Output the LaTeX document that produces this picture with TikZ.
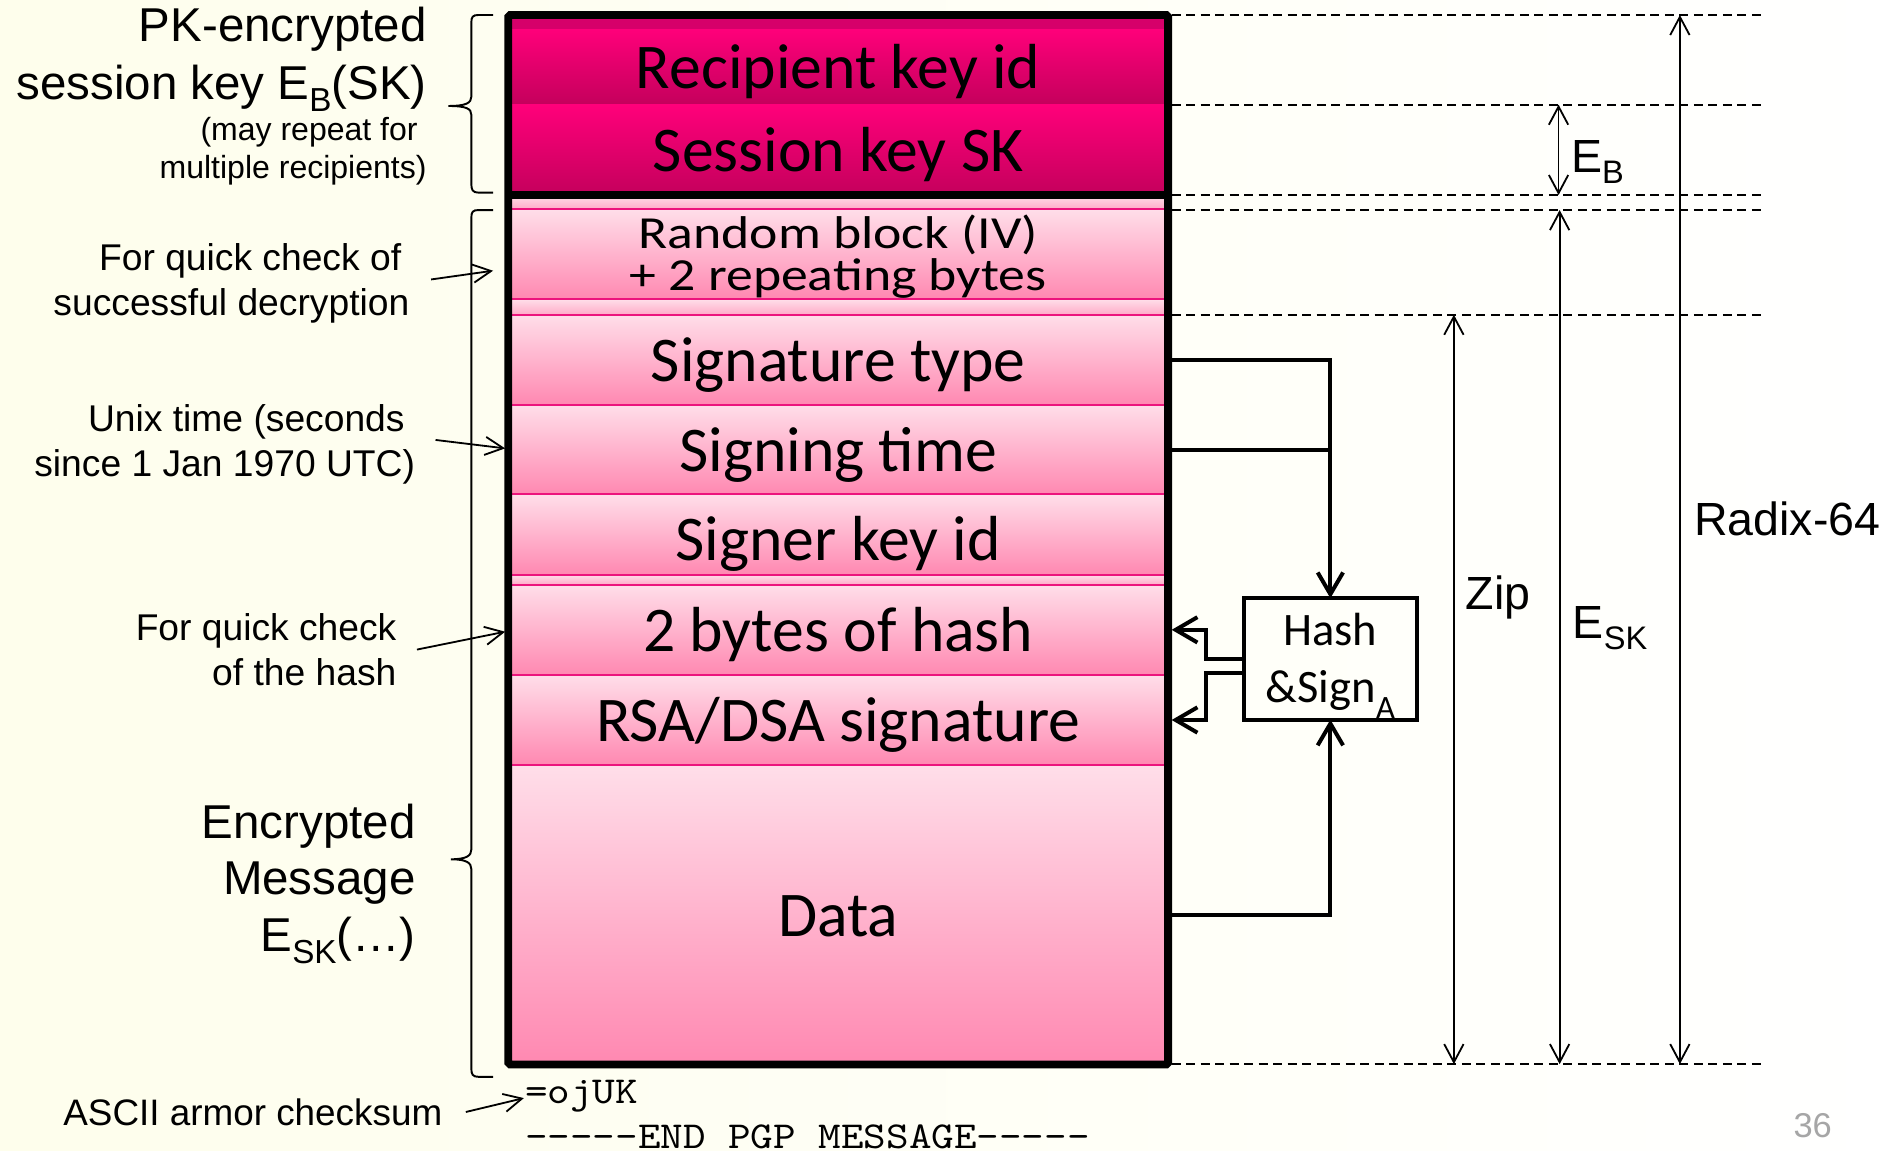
\documentclass[tikz,border=0pt]{standalone}
\usepackage{fontspec}
\usepackage{graphicx}
\setmainfont{Liberation Sans}
\newfontfamily\calfont{Carlito}
\newfontfamily\calwide[FakeStretch=1.17]{Carlito}
\newfontfamily\monofnt[FakeStretch=1.13]{lmmono10-regular.otf}
\usetikzlibrary{arrows.meta}
\newcommand{\subsc}[2][0.24em]{\raisebox{-#1}{\scalebox{0.7}{#2}}}
\newcommand{\fivedash}{-{}-{}-{}-{}-}
\definecolor{bgcream}{RGB}{254,254,236}
\definecolor{darktop}{RGB}{255,0,122}
\definecolor{darkbot}{RGB}{196,0,92}
\definecolor{darkstrip}{RGB}{214,0,106}
\definecolor{lighttop}{RGB}{255,222,233}
\definecolor{lightbot}{RGB}{255,136,177}
\definecolor{sepline}{RGB}{236,20,125}
\definecolor{pagegray}{RGB}{166,166,166}
\begin{document}
\begin{tikzpicture}[x=1pt,y=-1pt,
  every node/.style={inner sep=0pt,outer sep=0pt},
  rowbase/.style={rectangle,anchor=north west,minimum width=545.9pt,
    font=\calfont\fontsize{52.7}{58}\selectfont},
  onel/.style={text height=36pt,text depth=0pt},
  darkrow/.style={rowbase,top color=darktop,bottom color=darkbot},
  lightrow/.style={rowbase,top color=lighttop,bottom color=lightbot,draw=sepline,line width=1.6pt},
  bigl/.style={anchor=base east,align=right,font=\fontsize{39.3}{48.2}\selectfont},
  midl/.style={anchor=base east,align=right,font=\fontsize{30.8}{37}\selectfont},
  smalll/.style={anchor=base east,align=right,font=\fontsize{26.5}{32}\selectfont},
  diml/.style={anchor=base west,font=\fontsize{38.5}{46}\selectfont},
  monot/.style={anchor=base west,font=\monofnt\fontsize{31.5}{35}\selectfont},
  conn/.style={line width=3.3pt},
  connarrow/.style={conn,-{Straight Barb[length=18pt,width=21pt]}},
  dashline/.style={line width=1.4pt,dash pattern=on 7.5pt off 4.5pt},
  dimarrow/.style={line width=1.5pt,{Straight Barb[length=15pt,width=16pt]}-{Straight Barb[length=15pt,width=16pt]}},
  thinarrow/.style={line width=1.5pt,-{Straight Barb[length=15pt,width=15pt]}},
  brace/.style={line width=1.6pt}]
\useasboundingbox (0,0) rectangle (1568,952);
\fill[left color=bgcream,right color=white] (0,0) rectangle (1568,952);

% header rows
\fill[darkstrip] (420.6,12.4) rectangle (966.5,24);
\node[darkrow,onel,minimum height=62.6pt] (rk) at (420.6,24) {Recipient key id};
\node[darkrow,onel,minimum height=74.8pt] (sk) at (420.6,86.6) {Session key SK};

% encrypted part
\shade[top color=lighttop,bottom color=lightbot!60!lighttop] (420.6,161.4) rectangle (966.5,173.2);
\shade[top color=lighttop,bottom color=lightbot!60!lighttop] (420.6,247.7) rectangle (966.5,260.4);
\shade[top color=lighttop,bottom color=lightbot!60!lighttop] (420.6,475.5) rectangle (966.5,483.8);
\node[lightrow,minimum height=74.5pt,align=center,text height=66.4pt,text depth=7.3pt,
  font=\calwide\fontsize{38}{34.5}\selectfont] (rb) at (420.6,173.2) {Random block (IV)\\+ 2 repeating bytes};
\node[lightrow,onel,minimum height=74.5pt] (st) at (420.6,260.4) {Signature type};
\node[lightrow,onel,minimum height=74.1pt] (tm) at (420.6,334.9) {Signing time};
\node[lightrow,minimum height=66.5pt,text height=43pt,text depth=0pt] (sg) at (420.6,409) {Signer key id};
\draw[sepline,line width=1.6pt] (420.6,475.5) -- (966.5,475.5);
\node[lightrow,onel,minimum height=74.7pt] (hb) at (420.6,483.8) {2 bytes of hash};
\node[lightrow,onel,minimum height=74.5pt] (rs) at (420.6,558.5) {RSA/DSA signature};
\node[lightrow,onel,minimum height=247.8pt] (dt) at (420.6,633) {Data};

% outer box
\draw[line width=6.5pt,rounded corners=1.5pt] (420.6,12.4) rectangle (966.5,880.8);
\draw[line width=7pt] (420.6,161.4) -- (966.5,161.4);

% hash & sign
\node[draw,line width=3.3pt,minimum width=143.6pt,minimum height=100.5pt,align=center,
  text height=73.4pt,text depth=1pt,
  font=\calfont\fontsize{38.5}{46.9}\selectfont] (hs) at (1100.8,545.2) {Hash\\\&Sign\subsc[0.33em]{A}};
\draw[connarrow] (st.east) -| (hs.north);
\draw[conn] (tm.east) -- (tm.east -| hs.north);
\draw[connarrow] (dt.east) -| (hs.south);
\draw[connarrow] (hs.west) -- ++(-31,0) |- ([xshift=3pt]hb.east);
\draw[connarrow] ([yshift=-11.6pt]hs.west) -- ++(-31,0) |- ([xshift=3pt]rs.east);

% level lines
\coordinate (l0) at (969.5,12.4);
\coordinate (l1) at (969.5,86.6);
\coordinate (l2) at (969.5,161.4);
\coordinate (l3) at (969.5,173.8);
\coordinate (l4) at (969.5,260.4);
\coordinate (l5) at (969.5,880.5);
\foreach \l in {l0,l1,l2,l3,l4,l5} \draw[dashline] (\l) -- ++(491,0);
\coordinate (xeb) at (1289.6,0);
\coordinate (xesk) at (1290.5,0);
\coordinate (xzip) at (1203,0);
\coordinate (xrad) at (1390,0);
\draw[dimarrow] (l1 -| xeb) -- (l2 -| xeb);
\draw[dimarrow] (l3 -| xesk) -- (l5 -| xesk);
\draw[dimarrow] (l4 -| xzip) -- (l5 -| xzip);
\draw[dimarrow] (l0 -| xrad) -- (l5 -| xrad);
\node[diml] (ebl) at (1300,143) {E\subsc{B}};
\node[diml] (zipl) at (1213,504) {Zip};
\node[diml] (eskl) at (1301.4,528) {E\subsc{SK}};
\node[diml] (radl) at (1401.8,442.7) {Radix-64};

% left labels (base anchor = last line)
\node[bigl] (pk) at (353,82.7) {PK-encrypted\\session key E\subsc{B}(SK)};
\node[smalll] (rep) at (353,148) {(may repeat for\hspace*{0.28em}\\multiple recipients)};
\node[midl] (qc1) at (338.7,260.7) {For quick check of\hspace*{0.22em}\\successful decryption};
\node[midl] (unix) at (343.4,394) {Unix time (seconds\hspace*{0.28em}\\since 1 Jan 1970 UTC)};
\node[midl] (qc2) at (328,567) {For quick check\\of the hash};
\node[bigl,font=\fontsize{39.3}{47}\selectfont] (enc) at (344,787.5) {Encrypted\\Message\\E\subsc{SK}(…)};
\node[anchor=base west,font=\fontsize{30.5}{36}\selectfont] (ascii) at (52.4,931) {ASCII armor checksum};

% braces
\draw[brace] (408,12.4) -- (396,12.4) .. controls (391,12.4) and (390,14) .. (390,19) -- (390,80)
  .. controls (390,85) and (386,87.7) .. (371,87.7) .. controls (386,87.7) and (390,90) .. (390,95)
  -- (390,152) .. controls (390,157) and (391,159.4) .. (396,159.4) -- (408,159.4);
\draw[brace] (408,173.8) -- (396,173.8) .. controls (391,173.8) and (390,175.4) .. (390,180.4) -- (390,703)
  .. controls (390,708) and (386,711) .. (373,711) .. controls (386,711) and (390,714) .. (390,719)
  -- (390,884) .. controls (390,889) and (391,891) .. (396,891) -- (408,891);

% pointer arrows
\coordinate (p1) at (408,224);
\coordinate (p2) at (418,371);
\coordinate (p3) at (418,522.7);
\coordinate (p4) at (433.5,908.6);
\draw[thinarrow] ([xshift=18pt,yshift=3pt]qc1.east) -- (p1);
\draw[thinarrow] ([xshift=17pt,yshift=3.5pt]unix.east) -- (p2);
\draw[thinarrow] ([xshift=17pt]qc2.east) -- (p3);
\draw[thinarrow] ([xshift=19.5pt]ascii.east) -- (p4);

% armor text
\node[monot] (chk) at (434.6,913) {=ojUK};
\node[monot] (endm) at (434.5,950) {\fivedash END PGP MESSAGE\fivedash};
\node[anchor=base west,text=pagegray,font=\fontsize{28.5}{30}\selectfont] (pg) at (1484,941) {36};
\end{tikzpicture}
\end{document}
